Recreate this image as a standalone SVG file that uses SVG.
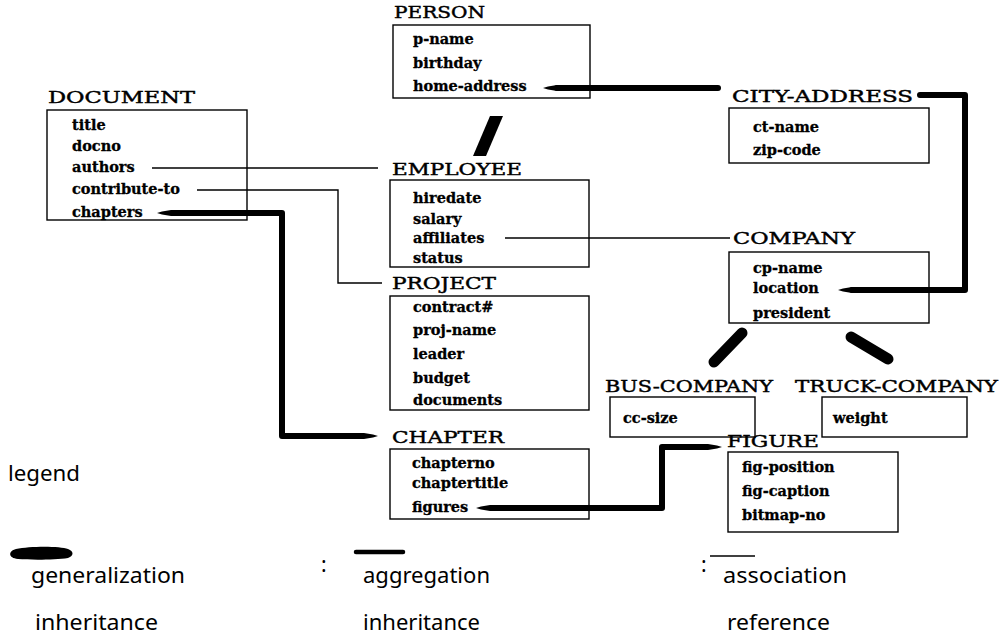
<svg xmlns="http://www.w3.org/2000/svg" width="1005" height="636" viewBox="0 0 1005 636">
<style>
.box{fill:none;stroke:#000;stroke-width:1.4}
.ttl{font-family:"DejaVu Serif","Liberation Serif",serif;font-size:17px;fill:#000;stroke:#000;stroke-width:0.45}
.it{font-family:"DejaVu Serif","Liberation Serif",serif;font-weight:bold;font-size:14.5px;fill:#000;stroke:#000;stroke-width:0.3}
.lg{font-family:"Noto Sans","Open Sans",sans-serif;font-size:21px;fill:#000}
.assoc{fill:none;stroke:#000;stroke-width:1.4}
.aggr{fill:none;stroke:#000;stroke-width:6;stroke-linejoin:round}
.gen{stroke:#000;stroke-width:11;stroke-linecap:round}
</style>
<defs>
<marker id="tip" viewBox="0 -4 14 8" refX="0" refY="0" markerWidth="14" markerHeight="8" markerUnits="userSpaceOnUse" orient="auto-start-reverse">
<path d="M0,-3 L9,-1.4 L14,0 L9,1.4 L0,3 Z" fill="#000"/>
</marker>
</defs>
<rect width="1005" height="636" fill="#fff"/>

<g id="document">
<text class="ttl" x="48" y="103" textLength="147" lengthAdjust="spacingAndGlyphs">DOCUMENT</text>
<rect class="box" x="47" y="110" width="200" height="110"/>
<text class="it" x="72" y="130">title</text>
<text class="it" x="72" y="151">docno</text>
<text class="it" x="72" y="172">authors</text>
<text class="it" x="72" y="194">contribute-to</text>
<text class="it" x="72" y="217">chapters</text>
</g>

<g id="person">
<text class="ttl" x="394" y="18" textLength="91" lengthAdjust="spacingAndGlyphs">PERSON</text>
<rect class="box" x="393" y="25" width="197" height="73"/>
<text class="it" x="413" y="44">p-name</text>
<text class="it" x="413" y="68">birthday</text>
<text class="it" x="413" y="91">home-address</text>
</g>

<g id="employee">
<text class="ttl" x="392" y="175" textLength="130" lengthAdjust="spacingAndGlyphs">EMPLOYEE</text>
<rect class="box" x="390" y="180" width="199" height="87"/>
<text class="it" x="413" y="203">hiredate</text>
<text class="it" x="413" y="224">salary</text>
<text class="it" x="413" y="243">affiliates</text>
<text class="it" x="413" y="263">status</text>
</g>

<g id="project">
<text class="ttl" x="392" y="289" textLength="104" lengthAdjust="spacingAndGlyphs">PROJECT</text>
<rect class="box" x="390" y="296" width="199" height="114"/>
<text class="it" x="413" y="312">contract#</text>
<text class="it" x="413" y="335">proj-name</text>
<text class="it" x="413" y="359">leader</text>
<text class="it" x="413" y="383">budget</text>
<text class="it" x="413" y="405">documents</text>
</g>

<g id="chapter">
<text class="ttl" x="392" y="443" textLength="112" lengthAdjust="spacingAndGlyphs">CHAPTER</text>
<rect class="box" x="390" y="449" width="199" height="70"/>
<text class="it" x="412" y="468">chapterno</text>
<text class="it" x="412" y="488">chaptertitle</text>
<text class="it" x="412" y="512">figures</text>
</g>

<g id="city-address">
<text class="ttl" x="732" y="102" textLength="181" lengthAdjust="spacingAndGlyphs">CITY-ADDRESS</text>
<rect class="box" x="729" y="108" width="200" height="55"/>
<text class="it" x="753" y="132">ct-name</text>
<text class="it" x="753" y="155">zip-code</text>
</g>

<g id="company">
<text class="ttl" x="733" y="244" textLength="122" lengthAdjust="spacingAndGlyphs">COMPANY</text>
<rect class="box" x="729" y="252" width="200" height="71"/>
<text class="it" x="753" y="273">cp-name</text>
<text class="it" x="753" y="293">location</text>
<text class="it" x="753" y="318">president</text>
</g>

<g id="bus-company">
<text class="ttl" x="605" y="392" textLength="168" lengthAdjust="spacingAndGlyphs">BUS-COMPANY</text>
<rect class="box" x="610" y="397" width="145" height="40"/>
<text class="it" x="623" y="423">cc-size</text>
</g>

<g id="truck-company">
<text class="ttl" x="795" y="392" textLength="203" lengthAdjust="spacingAndGlyphs">TRUCK-COMPANY</text>
<rect class="box" x="822" y="397" width="145" height="40"/>
<text class="it" x="833" y="423">weight</text>
</g>

<g id="figure">
<text class="ttl" x="727" y="447" textLength="92" lengthAdjust="spacingAndGlyphs">FIGURE</text>
<rect class="box" x="728" y="452" width="170" height="80"/>
<text class="it" x="742" y="472">fig-position</text>
<text class="it" x="742" y="496">fig-caption</text>
<text class="it" x="742" y="520">bitmap-no</text>
</g>

<g id="connectors">
<path class="assoc" d="M152,168 H378"/>
<path class="assoc" d="M197,190 H338 V283 H382"/>
<path class="assoc" d="M505,238 H730"/>
<path class="aggr" d="M171,213 H282 V436 H364" marker-start="url(#tip)" marker-end="url(#tip)"/>
<path class="aggr" d="M557,88 H718" stroke-linecap="round" marker-start="url(#tip)"/>
<path class="aggr" d="M920,95 H965 V290 H852" stroke-linecap="round" marker-end="url(#tip)"/>
<path class="aggr" d="M490,508 H662 V447 H708" marker-start="url(#tip)" marker-end="url(#tip)"/>
<polygon points="490,116 503,116 486,156 473,156" fill="#000"/>
<line class="gen" x1="742" y1="333" x2="714" y2="362"/>
<line class="gen" x1="851" y1="337" x2="888" y2="359"/>
</g>

<g id="legend">
<text class="lg" x="8" y="481" textLength="72" lengthAdjust="spacingAndGlyphs">legend</text>
<path d="M16,549 C30,546 60,546 68,549 C74,551 74,556 68,558 C55,560 30,560 18,559 C8,558 8,551 16,549 Z" fill="#000"/>
<text class="lg" x="31" y="583" textLength="154" lengthAdjust="spacingAndGlyphs">generalization</text>
<text class="lg" x="35" y="630" textLength="123" lengthAdjust="spacingAndGlyphs">inheritance</text>
<text class="lg" x="321" y="572" font-size="14">:</text>
<line x1="356" y1="552" x2="403" y2="552" stroke="#000" stroke-width="4.5" stroke-linecap="round"/>
<text class="lg" x="363" y="583" textLength="127" lengthAdjust="spacingAndGlyphs">aggregation</text>
<text class="lg" x="363" y="630" textLength="117" lengthAdjust="spacingAndGlyphs">inheritance</text>
<text class="lg" x="701" y="572" font-size="14">:</text>
<line x1="710" y1="556" x2="755" y2="556" stroke="#000" stroke-width="1.5"/>
<text class="lg" x="723" y="583" textLength="124" lengthAdjust="spacingAndGlyphs">association</text>
<text class="lg" x="727" y="630" textLength="103" lengthAdjust="spacingAndGlyphs">reference</text>
</g>
</svg>
